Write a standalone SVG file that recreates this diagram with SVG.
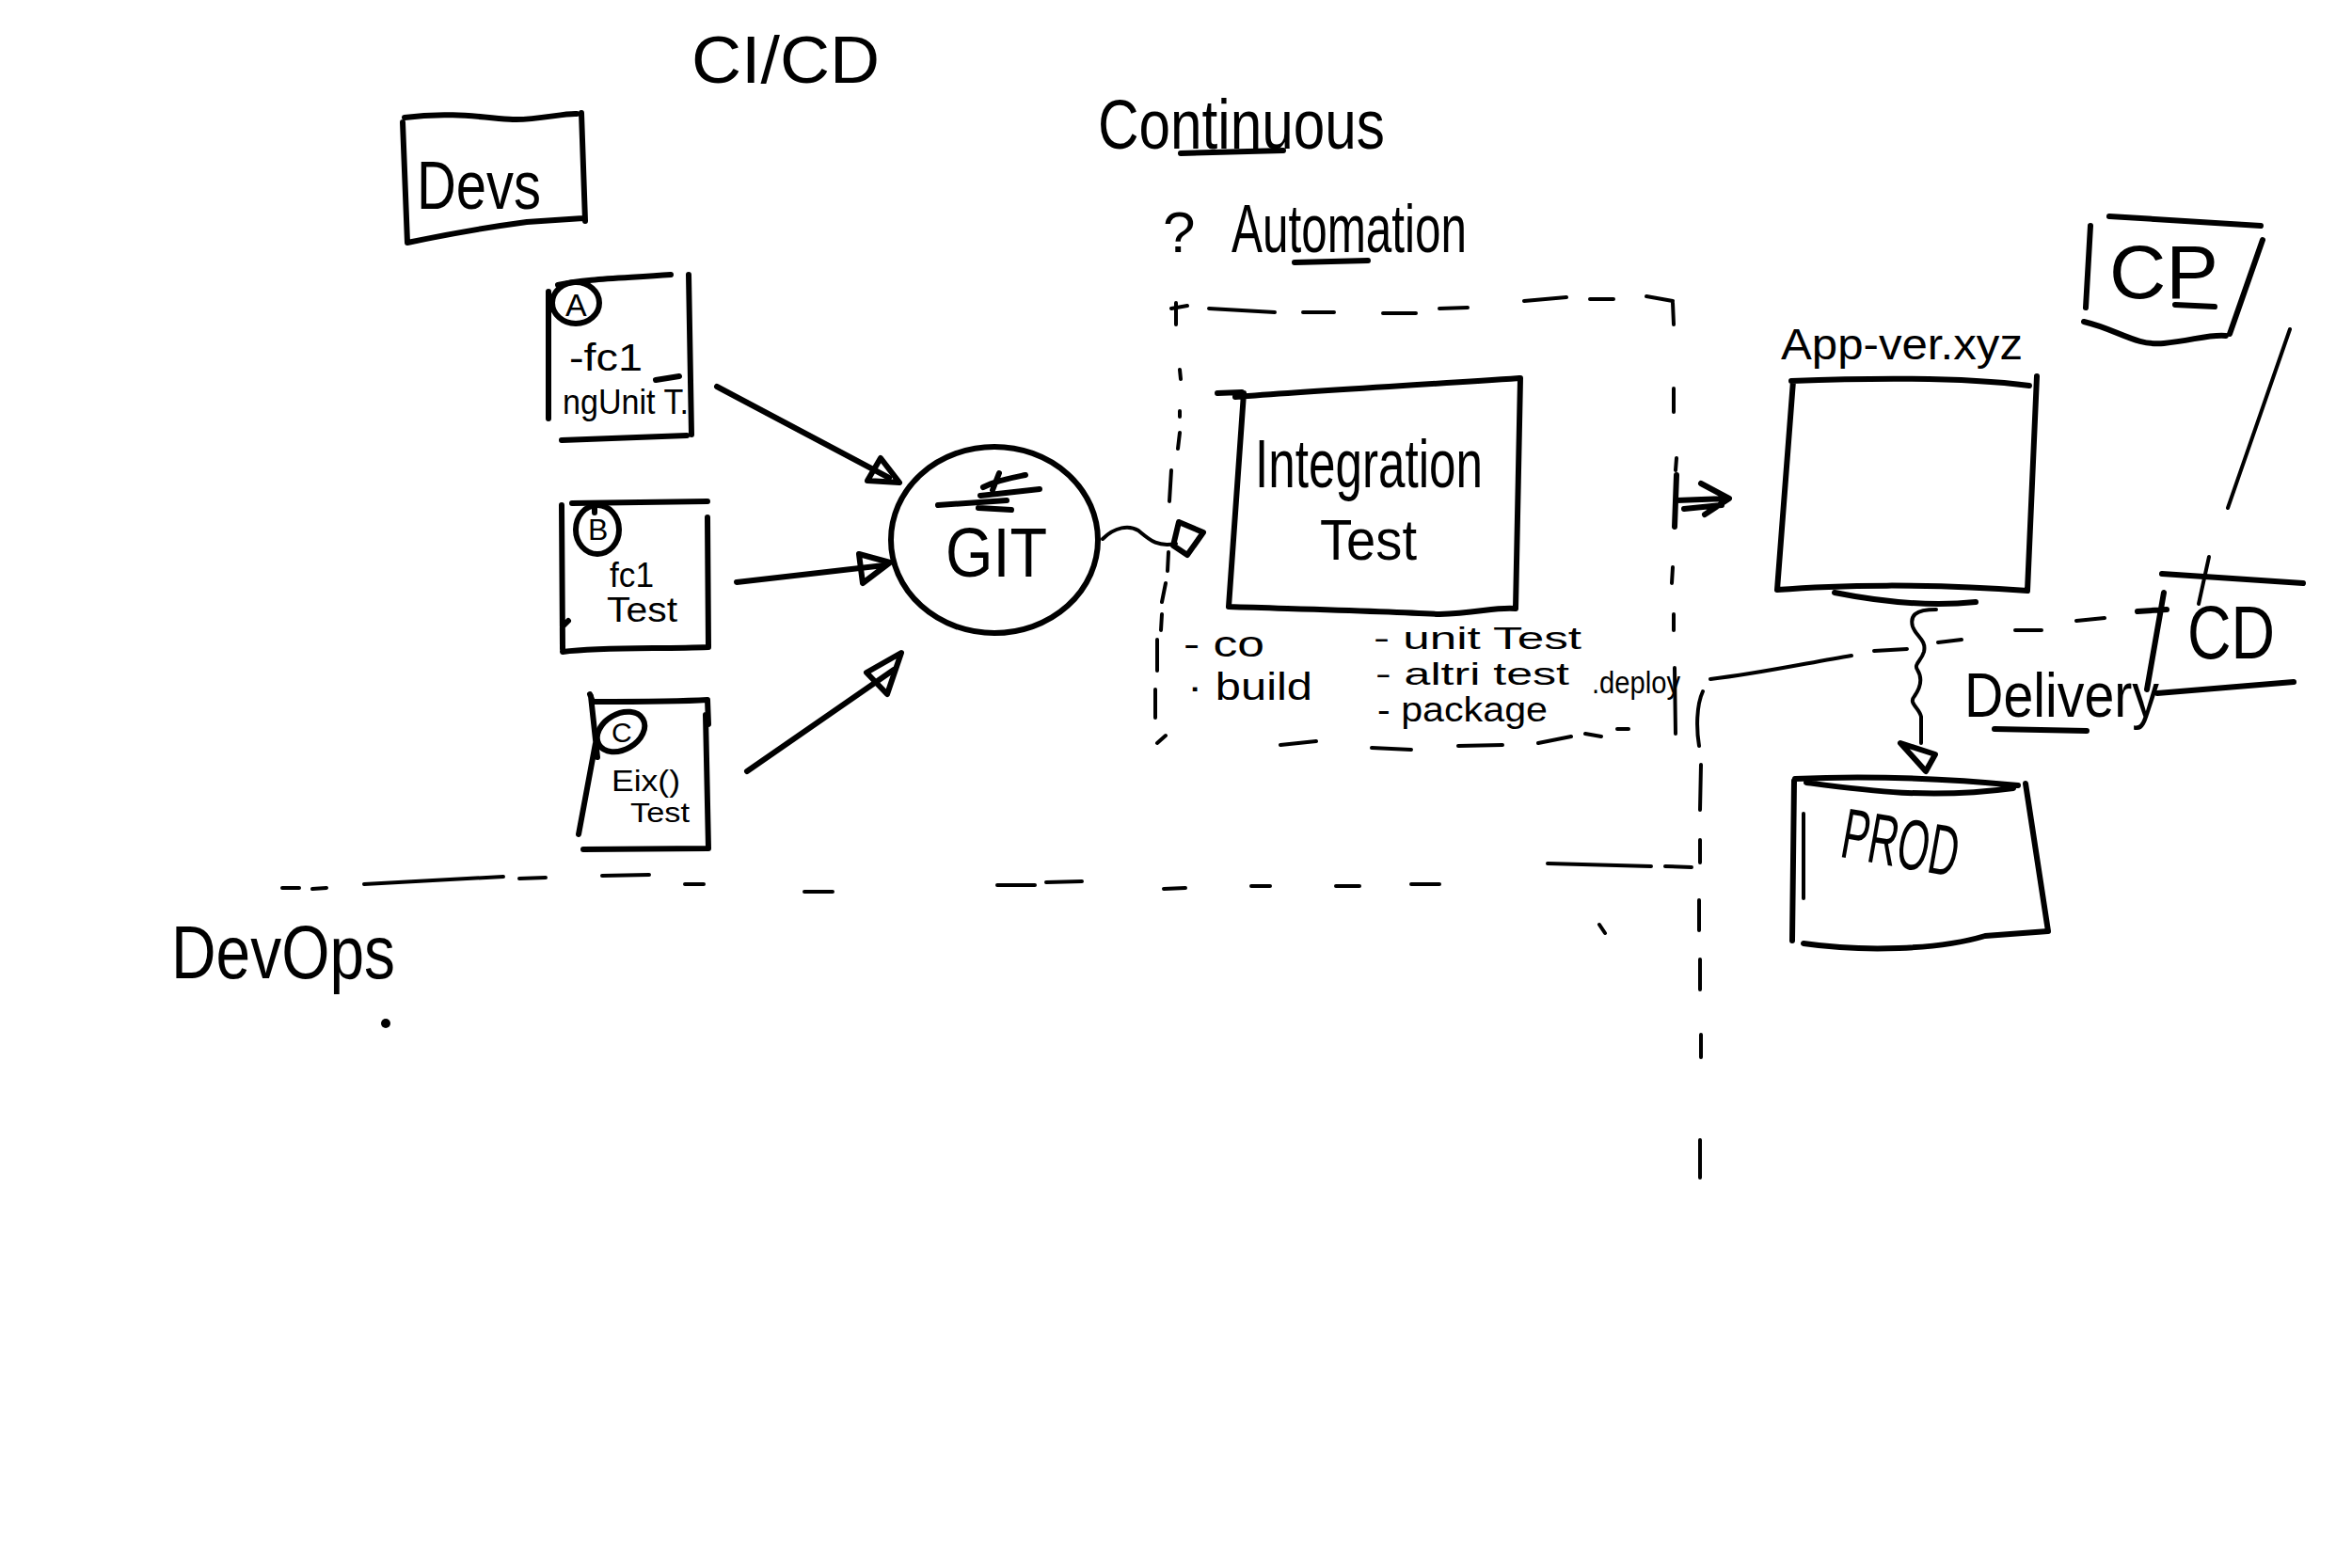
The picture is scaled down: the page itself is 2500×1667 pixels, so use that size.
<svg xmlns="http://www.w3.org/2000/svg" width="2500" height="1667" viewBox="0 0 2500 1667">
<style>
.s{fill:none;stroke:#000;stroke-width:6;stroke-linecap:round;stroke-linejoin:round}
.th{fill:none;stroke:#000;stroke-width:4;stroke-linecap:round;stroke-linejoin:round}
.d{fill:none;stroke:#000;stroke-width:4;stroke-linecap:round}
.t{font-family:"Liberation Sans",Arial,sans-serif;fill:#000}
</style>
<rect width="2500" height="1667" fill="#fff"/>

<g id="titles">
<text class="t" x="735" y="88" font-size="70" textLength="200" lengthAdjust="spacingAndGlyphs">CI/CD</text>
<text class="t" x="1167" y="158" font-size="75" textLength="305" lengthAdjust="spacingAndGlyphs">Continuous</text>
<path class="s" d="M1255,163 L1364,160"/>
<text class="t" x="1236" y="268" font-size="62">?</text>
<text class="t" x="1309" y="268" font-size="72" textLength="250" lengthAdjust="spacingAndGlyphs">Automation</text>
<path class="s" d="M1376,279 L1454,277"/>
<text class="t" x="182" y="1040" font-size="80" textLength="238" lengthAdjust="spacingAndGlyphs">DevOps</text>
<circle cx="410" cy="1088" r="5" fill="#000"/>
<text class="t" x="2088" y="762" font-size="66" textLength="207" lengthAdjust="spacingAndGlyphs">Delivery</text>
<path class="s" d="M2120,775 L2218,777"/>
<text class="t" x="1893" y="382" font-size="46" textLength="257" lengthAdjust="spacingAndGlyphs">App-ver.xyz</text>
</g>

<g id="node-devs">
<path class="s" d="M430,125 C480,118 520,126 545,127 S600,120 613,121 M618,120 L622,235 M433,258 C480,248 530,240 560,236 L620,232 M428,130 L433,258"/>
<text class="t" x="443" y="222" font-size="72" textLength="132" lengthAdjust="spacingAndGlyphs">Devs</text>
</g>

<g id="node-a">
<path class="s" d="M593,303 C625,296 660,296 713,292 M583,310 L583,445 M732,292 L735,462 M597,468 L730,463 M697,404 L722,400"/>
<ellipse class="s" cx="612" cy="322" rx="25" ry="22"/>
<text class="t" x="601" y="336" font-size="34">A</text>
<text class="t" x="605" y="394" font-size="40" textLength="78" lengthAdjust="spacingAndGlyphs">-fc1</text>
<text class="t" x="598" y="440" font-size="36" textLength="134" lengthAdjust="spacingAndGlyphs">ngUnit T.</text>
</g>

<g id="node-b">
<path class="s" d="M608,535 L752,533 M597,537 L598,690 M598,666 L604,660 M752,550 L753,688 M598,693 C640,688 700,690 753,688 M632,538 L632,545"/>
<ellipse class="s" cx="635" cy="563" rx="23" ry="26"/>
<text class="t" x="625" y="574" font-size="32">B</text>
<text class="t" x="648" y="624" font-size="36" textLength="47" lengthAdjust="spacingAndGlyphs">fc1</text>
<text class="t" x="645" y="661" font-size="36" textLength="75" lengthAdjust="spacingAndGlyphs">Test</text>
</g>

<g id="node-c">
<path class="s" d="M627,738 L630,746 C670,746 720,746 752,744 L753,770 M750,760 L753,902 M628,740 L635,805 M633,790 L615,887 M620,903 L753,902"/>
<ellipse class="s" cx="660" cy="778" rx="27" ry="19" transform="rotate(-30 660 778)"/>
<text class="t" x="650" y="789" font-size="30">C</text>
<text class="t" x="650" y="841" font-size="31" textLength="73" lengthAdjust="spacingAndGlyphs">Eix()</text>
<text class="t" x="670" y="874" font-size="29" textLength="63" lengthAdjust="spacingAndGlyphs">Test</text>
</g>

<g id="node-git">
<ellipse class="s" cx="1057" cy="574" rx="110" ry="99"/>
<path class="s" d="M997,537 L1070,532 M1042,527 L1105,520 M1045,518 C1060,510 1080,507 1090,505 M1062,503 L1055,521 M1040,540 L1075,542"/>
<text class="t" x="1005" y="613" font-size="75" textLength="108" lengthAdjust="spacingAndGlyphs">GIT</text>
</g>

<g id="node-integration">
<path class="s" d="M1294,418 L1320,417 M1313,422 C1400,415 1500,410 1615,402 M1616,402 L1611,647 M1306,645 C1400,648 1480,650 1530,653 C1570,652 1590,645 1611,647 M1322,418 L1306,645"/>
<text class="t" x="1334" y="518" font-size="72" textLength="242" lengthAdjust="spacingAndGlyphs">Integration</text>
<text class="t" x="1403" y="595" font-size="62" textLength="103" lengthAdjust="spacingAndGlyphs">Test</text>
</g>

<g id="automation-notes">
<text class="t" x="1258" y="698" font-size="38" textLength="86" lengthAdjust="spacingAndGlyphs">- co</text>
<text class="t" x="1262" y="744" font-size="40" textLength="133" lengthAdjust="spacingAndGlyphs">· build</text>
<text class="t" x="1460" y="690" font-size="34" textLength="221" lengthAdjust="spacingAndGlyphs">- unit Test</text>
<text class="t" x="1462" y="728" font-size="34" textLength="206" lengthAdjust="spacingAndGlyphs">- altri test</text>
<text class="t" x="1464" y="767" font-size="36" textLength="181" lengthAdjust="spacingAndGlyphs">- package</text>
<text class="t" x="1692" y="737" font-size="34" textLength="94" lengthAdjust="spacingAndGlyphs">.deploy</text>
</g>

<g id="node-app">
<path class="s" d="M1904,405 C1980,402 2080,400 2157,410 M2165,400 L2155,628 M1889,627 C1950,622 2050,620 2155,628 M1950,630 C2000,640 2050,645 2100,640 M1906,405 L1889,627"/>
</g>

<g id="node-cp">
<path class="s" d="M2242,230 L2403,240 M2405,255 L2370,355 M2215,342 C2250,350 2270,368 2300,365 S2350,355 2366,357 M2222,240 L2217,327 M2312,324 L2354,326"/>
<text class="t" x="2242" y="317" font-size="80" textLength="116" lengthAdjust="spacingAndGlyphs">CP</text>
<path class="th" d="M2434,350 L2368,540"/>
</g>

<g id="node-cd">
<path class="s" d="M2298,610 L2448,620 M2272,650 L2303,648 M2300,630 L2282,733 M2293,737 L2438,725"/>
<path class="th" d="M2348,592 L2337,642"/>
<text class="t" x="2325" y="700" font-size="80" textLength="93" lengthAdjust="spacingAndGlyphs">CD</text>
</g>

<g id="node-prod">
<path class="s" d="M1908,828 C1970,825 2050,826 2145,835 M1920,832 C1980,840 2050,850 2140,838 M2153,833 L2177,990 M1917,1003 C1980,1012 2060,1010 2110,995 L2177,990 M1907,830 L1905,1000"/>
<path class="th" d="M1917,865 L1917,955"/>
<text class="t" x="1957" y="922" font-size="76" textLength="125" lengthAdjust="spacingAndGlyphs" transform="rotate(10 2020 900)">PROD</text>
</g>

<g id="connectors">
<path class="s" d="M762,411 L945,508"/>
<path class="s" d="M936,487 L956,513 L922,511 Z"/>
<path class="s" d="M783,619 L940,601"/>
<path class="s" d="M913,589 L946,598 L917,620 Z"/>
<path class="s" d="M794,820 L950,712"/>
<path class="s" d="M958,694 L921,715 L943,738 Z"/>
<path class="th" d="M1172,573 C1185,560 1200,558 1210,564 C1222,574 1230,582 1250,578"/>
<path class="s" d="M1253,555 L1279,566 L1262,590 L1247,580 Z"/>
<path class="s" d="M1782,505 L1780,560 M1782,532 L1835,530 M1808,514 L1838,530 L1812,547 M1790,541 L1830,537"/>
<path class="th" d="M2058,648 C2035,648 2030,655 2033,666 C2036,676 2048,680 2045,693 C2042,703 2034,706 2038,712 C2043,720 2042,730 2035,740 C2028,748 2040,752 2042,762 L2042,790"/>
<path class="s" d="M2020,790 L2057,802 L2047,820 Z"/>
</g>

<g id="boundaries">
<path class="d" d="M1245,328 L1262,325 M1285,328 L1355,332 M1385,332 L1418,332 M1470,333 L1505,333 M1530,328 L1560,327 M1620,320 L1665,316 M1690,318 L1715,318 M1750,315 L1778,320"/>
<path class="d" d="M1778,322 L1779,345 M1779,413 L1779,438 M1782,487 L1781,500 M1778,603 L1777,620 M1779,653 L1779,670 M1780,710 L1781,780"/>
<path class="d" d="M1250,322 L1250,345 M1254,393 L1255,403 M1254,437 L1254,443 M1254,460 L1252,477 M1245,500 L1243,533 M1242,587 L1241,607 M1239,620 L1235,640 M1235,653 L1234,670 M1230,680 L1230,713 M1228,733 L1228,763 M1230,790 L1239,782"/>
<path class="d" d="M1361,792 L1399,788 M1458,795 L1500,797 M1550,793 L1597,792 M1635,790 L1670,783 M1685,780 L1702,783 M1719,775 L1731,775"/>
<path class="d" d="M1818,722 C1870,716 1920,705 1968,697 M1992,692 L2027,690 M2060,683 L2085,680 M2142,670 L2170,670 M2207,660 L2237,657"/>
<path class="d" d="M1810,735 C1803,750 1803,775 1806,793 M1808,813 L1807,861 M1807,893 L1807,917 M1806,957 L1806,989 M1807,1020 L1807,1052 M1808,1100 L1808,1124 M1807,1212 L1807,1252"/>
<path class="d" d="M300,944 L318,944 M332,945 L347,944 M387,940 L535,932 M552,934 L580,933 M640,931 L690,930 M728,940 L748,940 M855,948 L885,948 M1060,941 L1100,941 M1112,938 L1150,937 M1237,945 L1260,944 M1330,942 L1350,942 M1420,942 L1445,942 M1500,940 L1530,940 M1645,918 L1755,921 M1770,921 L1798,922 M1700,983 L1706,992"/>
</g>
</svg>
